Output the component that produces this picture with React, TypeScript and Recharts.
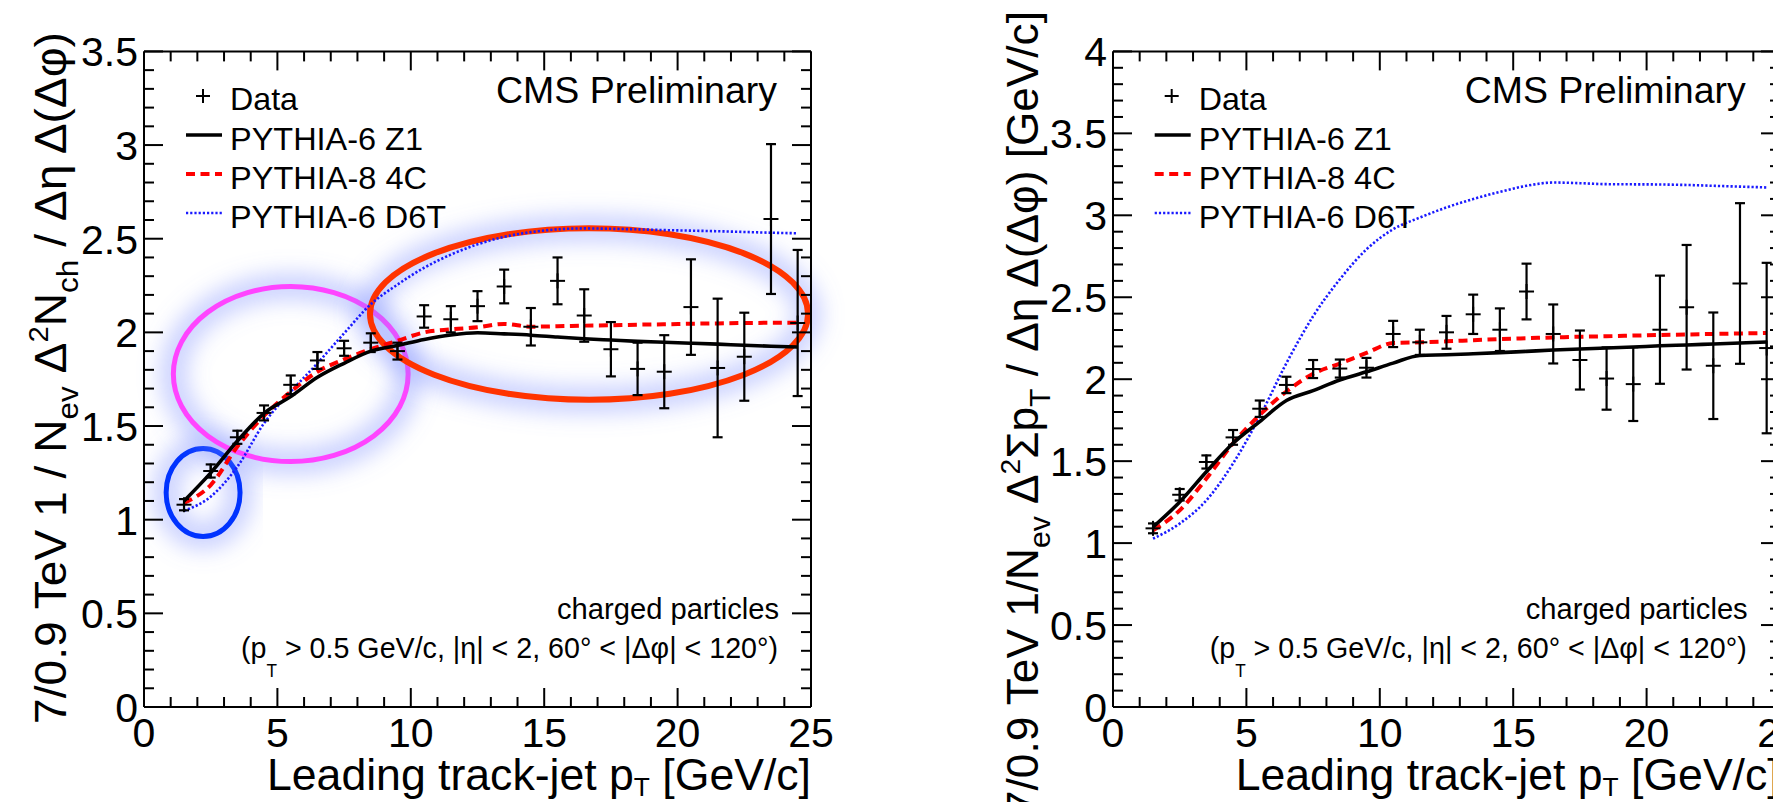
import React from 'react';
import { ComposedChart, Line, Scatter, ErrorBar, XAxis, YAxis, ReferenceArea } from 'recharts';

const FONT = '"Liberation Sans", Arial, Helvetica, sans-serif';

// ---------------- data ----------------
const ptBins = [1.5, 2.5, 3.5, 4.5, 5.5, 6.5, 7.5, 8.5, 9.5, 10.5, 11.5, 12.5, 13.5, 14.5, 15.5, 16.5, 17.5, 18.5, 19.5, 20.5, 21.5, 22.5, 23.5, 24.5];

// left panel: 7/0.9 TeV ratio of charged particle density
const nchData = [1.08, 1.26, 1.44, 1.57, 1.72, 1.85, 1.915, 1.945, 1.9, 2.085, 2.07, 2.14, 2.245, 2.03, 2.275, 2.09, 1.91, 1.805, 1.79, 2.135, 1.81, 1.87, 2.605, 2.05];
const nchErr = [0.03, 0.035, 0.035, 0.04, 0.05, 0.045, 0.04, 0.05, 0.045, 0.06, 0.07, 0.08, 0.09, 0.1, 0.125, 0.14, 0.145, 0.14, 0.195, 0.255, 0.37, 0.235, 0.4, 0.39];
const nchZ1 = [1.1, 1.25, 1.42, 1.568, 1.657, 1.76, 1.835, 1.9, 1.93, 1.962, 1.986, 1.998, 1.992, 1.985, 1.975, 1.966, 1.959, 1.952, 1.947, 1.942, 1.937, 1.931, 1.926, 1.922];
const nch4C = [1.09, 1.185, 1.39, 1.555, 1.683, 1.79, 1.856, 1.91, 1.955, 2.0, 2.016, 2.027, 2.045, 2.03, 2.033, 2.036, 2.038, 2.041, 2.043, 2.046, 2.048, 2.05, 2.051, 2.052];
const nchD6T = [1.048, 1.123, 1.283, 1.515, 1.683, 1.835, 1.995, 2.15, 2.255, 2.345, 2.415, 2.47, 2.51, 2.535, 2.55, 2.555, 2.553, 2.55, 2.546, 2.543, 2.54, 2.536, 2.532, 2.529];

// right panel: 7/0.9 TeV ratio of charged pT sum density
const ptsData = [1.09, 1.295, 1.495, 1.645, 1.82, 1.965, 2.062, 2.065, 2.07, 2.276, 2.225, 2.286, 2.396, 2.302, 2.535, 2.276, 2.117, 2.004, 1.97, 2.302, 2.439, 2.082, 2.584, 2.19];
const ptsErr = [0.03, 0.035, 0.04, 0.045, 0.05, 0.05, 0.055, 0.055, 0.06, 0.08, 0.077, 0.1, 0.12, 0.13, 0.17, 0.18, 0.18, 0.19, 0.225, 0.33, 0.38, 0.325, 0.49, 0.52];
const ptsZ1 = [1.098, 1.251, 1.435, 1.609, 1.741, 1.87, 1.93, 1.995, 2.045, 2.098, 2.145, 2.149, 2.155, 2.162, 2.17, 2.178, 2.184, 2.19, 2.196, 2.204, 2.209, 2.215, 2.221, 2.227];
const pts4C = [1.078, 1.2, 1.394, 1.609, 1.782, 1.925, 2.033, 2.095, 2.16, 2.221, 2.225, 2.231, 2.238, 2.245, 2.25, 2.255, 2.259, 2.262, 2.266, 2.27, 2.273, 2.276, 2.279, 2.282];
const ptsD6T = [1.027, 1.119, 1.261, 1.486, 1.772, 2.098, 2.384, 2.609, 2.792, 2.915, 2.986, 3.048, 3.099, 3.143, 3.18, 3.2, 3.196, 3.19, 3.189, 3.188, 3.185, 3.18, 3.175, 3.17];

// annotation ellipses on the left panel (bounds in data units)
const ellipseX1 = [0.83, 1.1, 8.47];
const ellipseX2 = [3.6, 9.9, 24.89];
const ellipseY1 = [0.91, 1.31, 1.64];
const ellipseY2 = [1.38, 2.245, 2.556];
const ellipseColors = ['#0033ff', '#ff44ff', '#ff3300'];

// ticks
const xTickValues = Array.from({ length: 26 }, (_, i) => i);
const nchYTickValues = Array.from({ length: 36 }, (_, i) => i / 10);
const ptsYTickValues = Array.from({ length: 41 }, (_, i) => i / 10);

const legendLabels = ['Data', 'PYTHIA-6 Z1', 'PYTHIA-8 4C', 'PYTHIA-6 D6T'];

const buildRows = (d: number[], e: number[], z1: number[], c4: number[], d6: number[]) =>
  ptBins.map((x, i) => ({ x, data: d[i], err: e[i], z1: z1[i], c4: c4[i], d6t: d6[i] }));

const nchRows = buildRows(nchData, nchErr, nchZ1, nch4C, nchD6T);
const ptsRows = buildRows(ptsData, ptsErr, ptsZ1, pts4C, ptsD6T);
const nchEllipses = ellipseX1.map((x1, i) => ({ x1, x2: ellipseX2[i], y1: ellipseY1[i], y2: ellipseY2[i], color: ellipseColors[i] }));

// ---------------- layout ----------------
const CHART_W = 900;
const CHART_H = 802;
const PLOT_L = 144;
const PLOT_R = 811;
const PLOT_T = 51.4;
const PLOT_B = 707;
const AX = 1; // axis band size (must be > 0 for recharts to draw the axis)
const MARGIN = { top: PLOT_T - AX, left: PLOT_L - AX, right: CHART_W - PLOT_R - AX, bottom: CHART_H - PLOT_B - AX };
const PANEL_DX = 968.7;
const MAJOR_LEN = 19;
const MINOR_LEN = 10;
const TICK_FONT = 41;
const AXIS_LINE = { stroke: '#000', strokeWidth: 2 };

const fmt = (v: number) => String(Math.round(v * 10) / 10);
const isMajorX = (v: number) => Math.abs(v - 5 * Math.round(v / 5)) < 1e-6;
const isMajorY = (v: number) => Math.round(v * 10) % 5 === 0;

const BottomTick = (p: any) => {
  const v = p.payload.value as number;
  const major = isMajorX(v);
  const len = major ? MAJOR_LEN : MINOR_LEN;
  return (
    <g>
      <line x1={p.x} x2={p.x} y1={p.y} y2={p.y - len} stroke="#000" strokeWidth={2} />
      {major && (
        <text x={p.x} y={p.y + 40} textAnchor="middle" fontFamily={FONT} fontSize={TICK_FONT} fill="#000">
          {fmt(v)}
        </text>
      )}
    </g>
  );
};

const TopTick = (p: any) => {
  const v = p.payload.value as number;
  const len = isMajorX(v) ? MAJOR_LEN : MINOR_LEN;
  return <line x1={p.x} x2={p.x} y1={p.y} y2={p.y + len} stroke="#000" strokeWidth={2} />;
};

const LeftTick = (p: any) => {
  const v = p.payload.value as number;
  const major = isMajorY(v);
  const len = major ? MAJOR_LEN : MINOR_LEN;
  return (
    <g>
      <line x1={p.x} x2={p.x + len} y1={p.y} y2={p.y} stroke="#000" strokeWidth={2} />
      {major && (
        <text x={p.x - 6} y={p.y + 15} textAnchor="end" fontFamily={FONT} fontSize={TICK_FONT} fill="#000">
          {fmt(v)}
        </text>
      )}
    </g>
  );
};

const RightTick = (p: any) => {
  const v = p.payload.value as number;
  const len = isMajorY(v) ? MAJOR_LEN : MINOR_LEN;
  return <line x1={p.x} x2={p.x - len} y1={p.y} y2={p.y} stroke="#000" strokeWidth={2} />;
};

const PlusShape = (p: any) => {
  const { cx, cy } = p;
  if (cx == null || cy == null) return <g />;
  return (
    <g stroke="#000" strokeWidth={2}>
      <line x1={cx - 7.5} x2={cx + 7.5} y1={cy} y2={cy} />
      <line x1={cx} x2={cx} y1={cy - 7.5} y2={cy + 7.5} />
    </g>
  );
};

const makeEllipseShape = (color: string, idx: number) => (p: any) => {
  const { x, y, width, height } = p;
  const cx = x + width / 2;
  const cy = y + height / 2;
  const id = `glow-${idx}`;
  return (
    <g>
      <defs>
        <filter id={id} x="-30%" y="-70%" width="160%" height="240%">
          <feGaussianBlur stdDeviation="11" />
        </filter>
      </defs>
      <ellipse cx={cx} cy={cy} rx={width / 2} ry={height / 2} fill="none" stroke="#7c8eff" strokeOpacity={0.42} strokeWidth={26} filter={`url(#${id})`} />
      <ellipse cx={cx} cy={cy} rx={width / 2} ry={height / 2} fill="none" stroke={color} strokeWidth={idx === 2 ? 6 : 5} />
    </g>
  );
};

function Panel({ rows, yMax, yTicks, ellipses }: { rows: any[]; yMax: number; yTicks: number[]; ellipses: any[] }) {
  return (
    <ComposedChart width={CHART_W} height={CHART_H} data={rows} margin={MARGIN}>
      <XAxis dataKey="x" type="number" domain={[0, 25]} ticks={xTickValues} interval={0} tickSize={0} tickMargin={0} height={AX}
        tick={BottomTick} tickLine={false} axisLine={AXIS_LINE} allowDataOverflow />
      <XAxis xAxisId="t" orientation="top" dataKey="x" type="number" domain={[0, 25]} ticks={xTickValues} interval={0} tickSize={0} tickMargin={0} height={AX}
        tick={TopTick} tickLine={false} axisLine={AXIS_LINE} allowDataOverflow />
      <YAxis type="number" domain={[0, yMax]} ticks={yTicks} interval={0} tickSize={0} tickMargin={0} width={AX}
        tick={LeftTick} tickLine={false} axisLine={AXIS_LINE} allowDataOverflow />
      <YAxis yAxisId="r" orientation="right" type="number" domain={[0, yMax]} ticks={yTicks} interval={0} tickSize={0} tickMargin={0} width={AX}
        tick={RightTick} tickLine={false} axisLine={AXIS_LINE} allowDataOverflow />
      <Line dataKey="d6t" type="monotone" stroke="#1a1aff" strokeWidth={2.6} strokeDasharray="2.2 2" dot={false} isAnimationActive={false} />
      <Line dataKey="c4" type="monotone" stroke="#ff0000" strokeWidth={4} strokeDasharray="9 5.5" dot={false} isAnimationActive={false} />
      <Line dataKey="z1" type="monotone" stroke="#000" strokeWidth={3.6} dot={false} isAnimationActive={false} />
      <Scatter data={rows} dataKey="data" shape={PlusShape} isAnimationActive={false}>
        <ErrorBar dataKey="err" direction="y" width={5} strokeWidth={2.2} stroke="#000" isAnimationActive={false} />
      </Scatter>
      {ellipses.map((e, i) => (
        <ReferenceArea key={i} x1={e.x1} x2={e.x2} y1={e.y1} y2={e.y2} ifOverflow="visible" shape={makeEllipseShape(e.color, i)} />
      ))}
    </ComposedChart>
  );
}

const Sub = ({ children, size, dy }: any) => (
  <tspan fontSize={size} dy={dy}>{children}</tspan>
);

function PanelTexts({ dx, right }: { dx: number; right: boolean }) {
  const legendTextLen = [68, 193, 197, 216];
  const rowsY = [110, 150, 189, 228];
  return (
    <g fontFamily={FONT} fill="#000">
      {/* legend */}
      <g stroke="#000" strokeWidth={2}>
        <line x1={dx + 196} x2={dx + 210} y1={96} y2={96} />
        <line x1={dx + 203} x2={dx + 203} y1={89} y2={103} />
      </g>
      <line x1={dx + 186} x2={dx + 222} y1={135} y2={135} stroke="#000" strokeWidth={3.6} />
      <line x1={dx + 186} x2={dx + 222} y1={174} y2={174} stroke="#ff0000" strokeWidth={4} strokeDasharray="9 5.5" />
      <line x1={dx + 186} x2={dx + 222} y1={213} y2={213} stroke="#1a1aff" strokeWidth={2.6} strokeDasharray="2.2 2" />
      {legendLabels.map((t, i) => (
        <text key={t} x={dx + 230} y={rowsY[i]} fontSize={32} textLength={legendTextLen[i]} lengthAdjust="spacingAndGlyphs">{t}</text>
      ))}
      <text x={dx + 496} y={103} fontSize={37} textLength={281} lengthAdjust="spacingAndGlyphs">CMS Preliminary</text>
      <text x={dx + 557} y={619} fontSize={30} textLength={222} lengthAdjust="spacingAndGlyphs">charged particles</text>
      <text x={dx + 241} y={658} fontSize={30} textLength={537} lengthAdjust="spacingAndGlyphs">
        (p<Sub size={18} dy={19}>T</Sub><tspan dy={-19}> &gt; 0.5 GeV/c, |η| &lt; 2, 60° &lt; |Δφ| &lt; 120°)</tspan>
      </text>
      {/* x title */}
      <text x={dx + 267} y={790} fontSize={44} textLength={544} lengthAdjust="spacingAndGlyphs">
        Leading track-jet p<Sub size={26} dy={6}>T</Sub><tspan dy={-6}> [GeV/c]</tspan>
      </text>
      {/* y title */}
      {!right ? (
        <text transform={`translate(${dx + 66},724) rotate(-90)`} fontSize={44} textLength={692} lengthAdjust="spacingAndGlyphs">
          7/0.9 TeV 1 / N<Sub size={30} dy={12}>ev</Sub><tspan dy={-12}>{'  '}Δ</tspan><Sub size={28} dy={-18}>2</Sub><tspan dy={18}>N</tspan><Sub size={30} dy={12}>ch</Sub><tspan dy={-12}> / Δη Δ(Δφ)</tspan>
        </text>
      ) : (
        <text transform={`translate(${dx + 69},815) rotate(-90)`} fontSize={44} textLength={804} lengthAdjust="spacingAndGlyphs">
          7/0.9 TeV 1/N<Sub size={30} dy={12}>ev</Sub><tspan dy={-12}> Δ</tspan><Sub size={28} dy={-18}>2</Sub><tspan dy={18}>Σp</tspan><Sub size={30} dy={12}>T</Sub><tspan dy={-12}> / Δη Δ(Δφ) [GeV/c]</tspan>
        </text>
      )}
    </g>
  );
}

export default function App() {
  return (
    <div style={{ position: 'absolute', left: 0, top: 0, width: 1773, height: 802, overflow: 'hidden', background: '#fff' }}>
      <div style={{ position: 'absolute', left: 0, top: 0 }}>
        <Panel rows={nchRows} yMax={3.5} yTicks={nchYTickValues} ellipses={nchEllipses} />
      </div>
      <div style={{ position: 'absolute', left: PANEL_DX, top: 0 }}>
        <Panel rows={ptsRows} yMax={4} yTicks={ptsYTickValues} ellipses={[]} />
      </div>
      <svg width={1773} height={802} style={{ position: 'absolute', left: 0, top: 0, pointerEvents: 'none' }}>
        <PanelTexts dx={0} right={false} />
        <PanelTexts dx={PANEL_DX} right={true} />
      </svg>
    </div>
  );
}
